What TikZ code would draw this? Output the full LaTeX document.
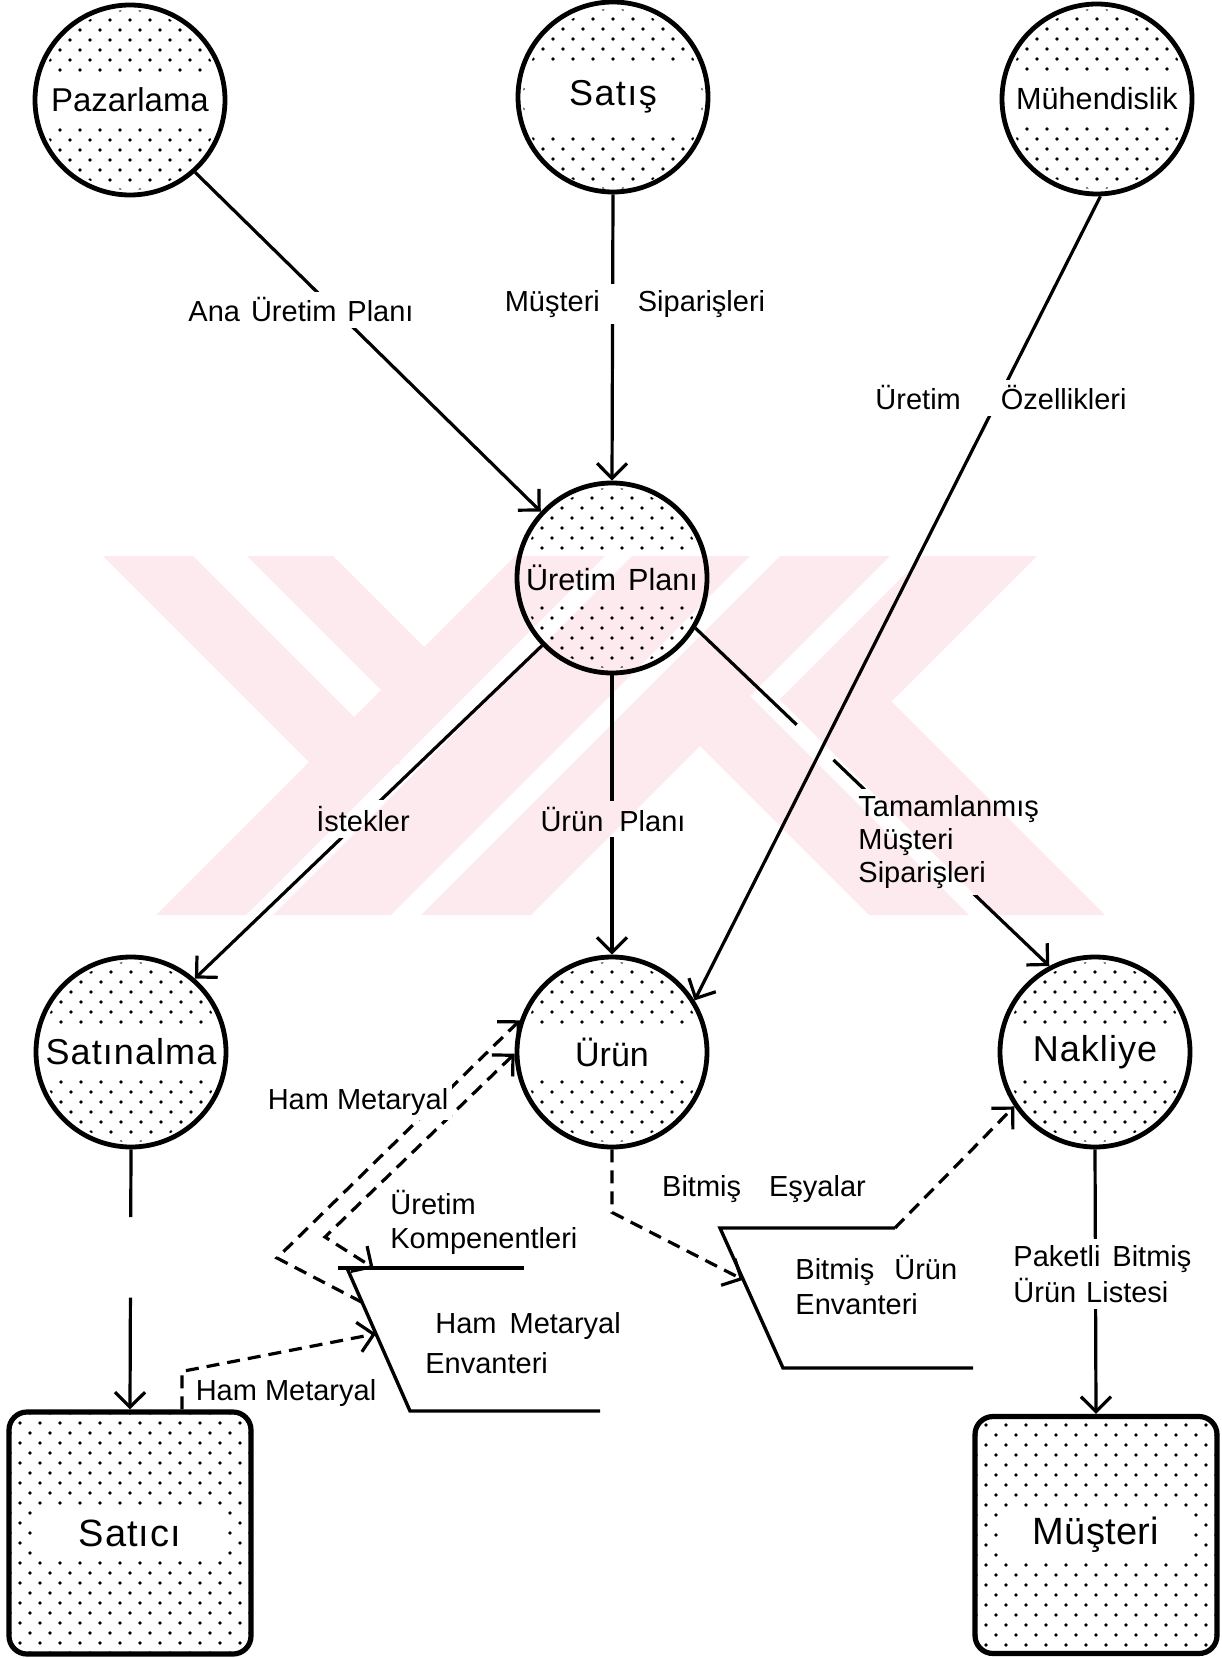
\documentclass[tikz,border=0pt]{standalone}
\usepackage{fontspec}
\setmainfont{Liberation Sans}
\usetikzlibrary{arrows.meta,calc}

\definecolor{wmpink}{RGB}{253,234,238}

% stippled fill: staggered dot grid around (#1,#2), extent #3 x #4,
% leaving a clear band of half size #5 x #6 for the label
\newcommand\dotgrid[6]{%
  \foreach \r in {-12,...,12}{%
    \foreach \c in {-7,...,7}{%
      \pgfmathsetmacro\dx{\c*20+mod(\r+100,2)*10}%
      \pgfmathsetmacro\dy{\r*10}%
      \pgfmathtruncatemacro\keep{((abs(\dx)>#5)||(abs(\dy)>#6))&&(abs(\dx)<#3)&&(abs(\dy)<#4)}%
      \ifnum\keep=1 \fill ({#1+\dx},{#2+\dy}) circle[radius=1.9];\fi
    }}}
\newcommand\dotcircle[4]{%
  \begin{scope}\clip (#1,#2) circle[radius=90];\dotgrid{#1}{#2}{96}{96}{#3}{#4}\end{scope}}
\newcommand\dotbox[6]{%
  \begin{scope}\clip[rounded corners=8pt] ({#1-#3},{#2-#4}) rectangle ({#1+#3},{#2+#4});
  \dotgrid{#1}{#2}{#3+2}{#4+2}{#5}{#6}\end{scope}}

\begin{document}
\begin{tikzpicture}[x=0.5pt,y=-0.5pt,
  proc/.style={circle,draw,line width=2.4pt,minimum size=95pt,inner sep=0pt,
    font=\fontsize{17}{20}\selectfont},
  ext/.style={draw,line width=2.6pt,rounded corners=9pt,minimum width=121pt,
    minimum height=121pt,inner sep=0pt,font=\fontsize{19}{22}\selectfont},
  conn/.style={line width=1.6pt},
  dconn/.style={line width=1.6pt,dash pattern=on 6.5pt off 4pt},
  store/.style={line width=1.7pt},
  elab/.style={fill=white,inner sep=3pt,font=\fontsize{14.5}{17}\selectfont},
  tlab/.style={inner sep=0pt,font=\fontsize{14.5}{17}\selectfont},
  >={Straight Barb[length=7.5pt,width=15pt]}]
\useasboundingbox (0,0) rectangle (1221,1658);

% stippling
\dotcircle{130}{100}{100}{23}
\dotcircle{613}{99}{80}{32}
\dotcircle{1097}{99}{100}{20}
\dotcircle{612}{578}{100}{21}
\dotcircle{131}{1052}{100}{24}
\dotcircle{612}{1052}{100}{26}
\dotcircle{1095}{1052}{100}{24}
\dotbox{130}{1533}{119}{119}{98}{27}
\dotbox{1096}{1535}{119}{116}{98}{27}

% processes and external entities
\node[proc,font=\fontsize{16.5}{20}\selectfont] (paz) at (130,100) {Pazarlama};
\node[proc,font=\fontsize{18}{20}\selectfont] (sat) at (613,97) {\addfontfeatures{LetterSpace=4}Satış};
\node[proc,font=\fontsize{15.3}{18}\selectfont] (muh) at (1097,99) {Mühendislik};
\node[proc,font=\fontsize{15.3}{18}\selectfont] (up) at (612,578) {Üretim\hspace{6pt}Planı};
\node[proc,font=\fontsize{18}{20}\selectfont] (satin) at (131,1052) {\addfontfeatures{LetterSpace=3}Satınalma};
\node[proc] (urun) at (612,1052) {Ürün};
\node[proc,font=\fontsize{18}{20}\selectfont] (nak) at (1095,1052) {\addfontfeatures{LetterSpace=3}Nakliye};
\node[ext] (satici) at (130,1533) {\addfontfeatures{LetterSpace=3}Satıcı};
\node[ext,minimum height=118.5pt] (mus) at (1096,1535) {\addfontfeatures{LetterSpace=1}Müşteri};

% data stores (open-ended)
\coordinate (hmeTL) at (338,1268);
\coordinate (hmeT0) at (347,1268);
\coordinate (hmeTR) at (524,1268);
\coordinate (hmeBL) at (410,1411);
\coordinate (hmeBR) at (600,1411);
\coordinate (bueTL) at (720,1228);
\coordinate (bueTR) at (895,1228);
\coordinate (bueBL) at (783,1368);
\coordinate (bueBR) at (973,1368);
\draw[store] (hmeTL) -- (hmeTR);
\draw[store] (hmeT0) -- (hmeBL) -- (hmeBR);
\draw[store] (bueTR) -- (bueTL) -- (bueBL) -- (bueBR);

% solid flows
\draw[conn,->] (paz.-48) -- (up.137);
\draw[conn,->] (sat.south) -- (up.north);
\draw[conn,->] (muh.-88) -- (urun.32);
\draw[conn,->] (up.-136) -- (satin.49);
\draw[conn,->] (up.south) -- (urun.north);
\coordinate (tn1) at ($(up.-31)!0.286!(nak.118)$);
\coordinate (tn2) at ($(up.-31)!0.39!(nak.118)$);
\draw[conn] (up.-31) -- (tn1);
\draw[conn,->] (tn2) -- (nak.118);
\coordinate (sg1) at ($(satin.south)!0.26!(satici.north)$);
\coordinate (sg2) at ($(satin.south)!0.57!(satici.north)$);
\draw[conn] (satin.south) -- (sg1);
\draw[conn,->] (sg2) -- (satici.north);
\draw[conn,->] (nak.south) -- (mus.north);

% material flows
\coordinate (ca) at (277,1258);
\coordinate (cb) at (325,1237);
\draw[dconn,->] ([xshift=26pt]satici.north) -- ++(0,-38) -- ($(hmeT0)!0.46!(hmeBL)$);
\draw[dconn,->] ($(hmeT0)!0.24!(hmeBL)$) -- (ca) -- (urun.161);
\draw[dconn,<->] (urun.181) -- (cb) -- ($(hmeT0)!0.15!(hmeTR)$);
\draw[dconn,->] (urun.south) -- ++(0,63) -- ($(bueTL)!0.37!(bueBL)$);
\draw[dconn,->] (bueTR) -- (nak.214);

% flow labels
\node[elab] (lAna) at (301,310) {Ana\hspace{5.5pt}Üretim\hspace{5.5pt}Planı};
\node[elab] (lSip) at (635,304) {Müşteri\hspace{19pt}Siparişleri};
\node[elab] (lOz) at (1001,398) {Üretim\hspace{20pt}Özellikleri};
\node[elab] (lIst) at (363,819) {İstekler};
\node[elab] (lUp) at (613,819) {Ürün\hspace{8pt}Planı};
\node[elab,align=left,anchor=west,font=\fontsize{14.5}{16.5}\selectfont] (lTam) at (852,842)
  {Tamamlanmış\\Müşteri\\Siparişleri};
\node[elab,inner sep=2pt] (lHam1) at (358,1102) {Ham Metaryal};
\node[tlab,align=left,anchor=west] (lKomp) at (390,1222) {Üretim\\Kompenentleri};
\node[tlab] (lHam2) at (286,1393) {Ham Metaryal};
\node[tlab,align=left,anchor=west,font=\fontsize{14.5}{20}\selectfont] (lHme) at (425,1343)
  {\hspace{5pt}Ham\hspace{6.5pt}Metaryal\\Envanteri};
\node[tlab] (lBe) at (764,1189) {Bitmiş\hspace{14pt}Eşyalar};
\node[tlab,align=left,anchor=west,font=\fontsize{14.5}{17.5}\selectfont] (lBue) at (795,1285)
  {Bitmiş\hspace{10pt}Ürün\\Envanteri};
\node[elab,align=left,anchor=west,font=\fontsize{14.5}{18}\selectfont] (lPak) at (1007,1274)
  {Paketli\hspace{6pt}Bitmiş\\Ürün\hspace{5pt}Listesi};

% faint seal printed across the middle of the page
\begin{scope}[blend mode=multiply]
\fill[wmpink]
  (103,556) -- (193,556) -- (401,764) -- (311,764) -- cycle
  (247,556) -- (333,556) -- (469,692) -- (381,690) -- cycle
  (515,556) -- (605,556) -- (246,915) -- (156,915) -- cycle
  (632,556) -- (750,556) -- (391,915) -- (273,915) -- cycle
  (780,556) -- (890,556) -- (531,915) -- (421,915) -- cycle
  (923,556) -- (1037,556) -- (891.5,701.5) -- (1105,915) -- (995,915) -- (779.5,699.5) -- cycle
  (645,691) -- (750,696) -- (969,915) -- (869,915) -- cycle;
\end{scope}
\end{tikzpicture}
\end{document}
